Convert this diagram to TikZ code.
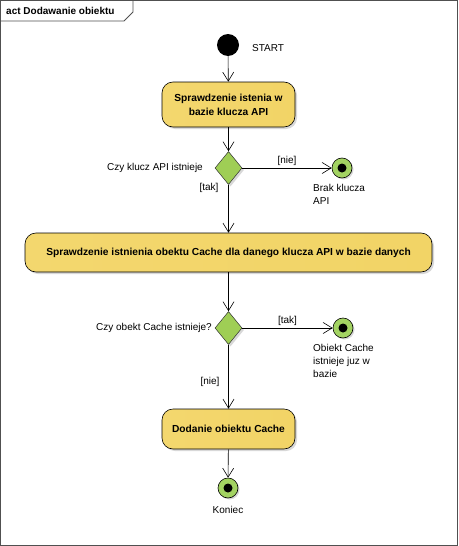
\documentclass[tikz,border=0pt]{standalone}
\usepackage{fontspec}
\setmainfont{Liberation Sans}
\usetikzlibrary{shapes.geometric,arrows.meta,shadows}
\definecolor{framec}{HTML}{505050}
\definecolor{yelL}{HTML}{F3D76E}
\definecolor{yelM}{HTML}{FCF0B6}
\definecolor{yelR}{HTML}{F2D466}
\definecolor{dgreen}{HTML}{9FCE55}
\definecolor{fgreen}{HTML}{A3D362}
\begin{document}
\begin{tikzpicture}[x=1pt,y=-1pt,
  every node/.style={font=\fontsize{10}{13}\selectfont},
  action/.style={draw=black, line width=0.6pt, rounded corners=11pt, left color=yelL, middle color=yelM, right color=yelR,
    align=center, font=\bfseries\fontsize{10.2}{14}\selectfont, inner sep=2pt,
    drop shadow={shadow xshift=2pt, shadow yshift=-2pt, fill=black!30, opacity=0.5}},
  decision/.style={diamond, draw=black!80, line width=0.5pt, fill=dgreen, minimum width=27pt, minimum height=33pt, inner sep=0pt,
    drop shadow={shadow xshift=2pt, shadow yshift=-2pt, fill=black!30, opacity=0.5}},
  startnode/.style={circle, fill=black, minimum size=22pt, inner sep=0pt},
  endnode/.style={circle, draw=black, line width=0.6pt, fill=fgreen, minimum size=20pt, inner sep=0pt,
    drop shadow={shadow xshift=1.5pt, shadow yshift=-1.5pt, fill=black!30, opacity=0.5}},
  flow/.style={draw=black, line width=0.6pt, -{Straight Barb[length=9pt,width=11pt,line width=0.6pt]}},
  lbl/.style={inner sep=1pt}
]
\useasboundingbox (0,0) rectangle (458,546);
% frame
\draw[framec, line width=0.8pt] (0.5,0.5) rectangle (457.5,545.5);
\draw[framec, line width=0.8pt] (0.5,21) -- (124,21) -- (133,12) -- (133,0.5);
\node[anchor=west, font=\bfseries\fontsize{10}{12}\selectfont, inner sep=0pt] (title) at (6,10.5) {act Dodawanie obiektu};

% nodes
\node[startnode] (start) at (228,45) {};
\node[anchor=west, lbl] (startlbl) at (251,48) {START};

\node[action, minimum width=133pt, minimum height=45pt] (a1) at (228.5,104.5) {Sprawdzenie istenia w\\bazie klucza API};

\node[decision] (d1) at (228.5,168) {};
\node[anchor=east, lbl] (d1lbl) at (204,168) {Czy klucz API istnieje};
\node[endnode] (e1) at (342,168) {};
\node[fill=black, circle, minimum size=9pt, inner sep=0pt] (e1dot) at (e1) {};
\node[anchor=north west, align=left, lbl] (e1lbl) at (312,183) {Brak klucza\\API};

\node[action, minimum width=407pt, minimum height=39pt] (a2) at (228.5,252.5) {Sprawdzenie istnienia obektu Cache dla danego klucza API w bazie danych};

\node[decision] (d2) at (228.5,328) {};
\node[anchor=east, lbl] (d2lbl) at (213,328) {Czy obekt Cache istnieje?};
\node[endnode] (e2) at (343,328) {};
\node[fill=black, circle, minimum size=9pt, inner sep=0pt] (e2dot) at (e2) {};
\node[anchor=north west, align=left, lbl] (e2lbl) at (312,343) {Obiekt Cache\\istnieje juz w\\bazie};

\node[action, minimum width=133pt, minimum height=40pt] (a3) at (228.5,429) {Dodanie obiektu Cache};

\node[endnode] (e3) at (228,488) {};
\node[fill=black, circle, minimum size=9pt, inner sep=0pt] (e3dot) at (e3) {};
\node[lbl] (e3lbl) at (228,510) {Koniec};

% flows
\draw[flow] (start) -- (a1);
\draw[flow] (a1) -- (d1);
\draw[flow] (d1) -- node[pos=0.5, above, lbl, yshift=1pt] (nie1) {[nie]} (e1);
\draw[flow] (d1) -- (a2);
\node[lbl] (tak1) at (209,188) {[tak]};
\draw[flow] (a2) -- (d2);
\draw[flow] (d2) -- node[pos=0.5, above, lbl, yshift=1pt] (tak2) {[tak]} (e2);
\draw[flow] (d2) -- (a3);
\node[lbl] (nie2) at (210,382) {[nie]};
\draw[flow] (a3) -- (e3);
\end{tikzpicture}
\end{document}
